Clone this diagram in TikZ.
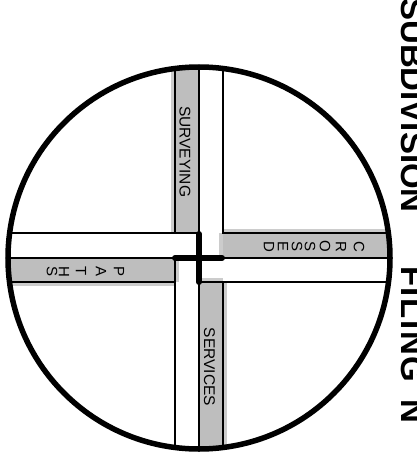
\documentclass[tikz,border=0pt]{standalone}
\usepackage{fontspec}
\setmainfont{Liberation Sans}
\definecolor{roadgray}{RGB}{190,190,190}
\definecolor{halogray}{RGB}{204,204,204}
\begin{document}
\begin{tikzpicture}[x=1pt,y=-1pt,
  thinline/.style={line width=1.7pt},
  midline/.style={line width=2.5pt},
  thickline/.style={line width=6pt, line cap=round},
  roadlabel/.style={inner sep=0pt, font=\fontsize{15.5}{18}\selectfont, rotate=-90, anchor=base},
  letter/.style={inner sep=0pt, font=\fontsize{15}{17}\selectfont, rotate=-90, anchor=center},
  titletext/.style={inner sep=0pt, font=\fontsize{33}{36}\selectfont\bfseries, rotate=-90, anchor=base west}]
\useasboundingbox (0,0) rectangle (416,452);
\fill[white] (0,0) rectangle (416,452);
\coordinate (ctr) at (199,258);
\begin{scope}
  \clip (ctr) circle (191);
  % halos
  \fill[halogray] (171,0) rectangle (175,233);
  \fill[halogray] (0,282) rectangle (175,286);
  \fill[halogray] (175,258) rectangle (179,282);
  \fill[halogray] (223,229) rectangle (416,233);
  \fill[halogray] (219,233) rectangle (223,258);
  \fill[halogray] (223,282) rectangle (227,452);
  \fill[halogray] (199,278) rectangle (223,282);
  % gray fills
  \fill[roadgray] (175,0) rectangle (199,233);
  \fill[roadgray] (0,258) rectangle (175,282);
  \fill[roadgray] (223,233) rectangle (416,258);
  \fill[roadgray] (199,282) rectangle (223,452);
  % road edges
  \draw[thinline] (175,0) -- (175,233);
  \draw[thinline] (0,233) -- (199,233);
  \draw[thinline] (223,0) -- (223,233) -- (416,233);
  \draw[midline] (199,0) -- (199,233);
  \draw[midline] (199,282) -- (199,452);
  \draw[midline] (0,258) -- (175,258);
  \draw[midline] (223,258) -- (416,258);
  \draw[thinline] (0,282) -- (175,282);
  \draw[thinline] (175,258) -- (175,452);
  \draw[thinline] (199,282) -- (416,282);
  \draw[thinline] (223,282) -- (223,452);
\end{scope}
\draw[thickline] (199,234) -- (199,282);
\draw[thickline] (175,258) -- (222,258);
\draw[line width=5.5pt] (ctr) circle (191);
% road labels
\node[roadlabel] (surveying) at (179.5,151.7) {SURVEYING};
\node[roadlabel] (services) at (204,367) {SERVICES};
% CROSSED
\node[letter] (c1) at (359,246.5) {C};
\node[letter] (c2) at (341,246.5) {R};
\node[letter] (c3) at (325,246.5) {O};
\node[letter] (c4) at (310,246.5) {S};
\node[letter] (c5) at (297,246.5) {S};
\node[letter] (c6) at (283,246.5) {E};
\node[letter] (c7) at (269,246.5) {D};
% PATHS
\node[letter] (p1) at (119,271.5) {P};
\node[letter] (p2) at (101,271.5) {A};
\node[letter] (p3) at (81,271.5) {T};
\node[letter] (p4) at (64,271.5) {H};
\node[letter] (p5) at (52,271.5) {S};
% title
\node[titletext] (t1) at (401,-2) {SUBDIVISION};
\node[titletext, font=\fontsize{33}{36}\selectfont\bfseries\addfontfeature{LetterSpace=5}] (t2) at (401,266) {FILING};
\node[titletext] (t3) at (401,399.6) {N};
\end{tikzpicture}
\end{document}
